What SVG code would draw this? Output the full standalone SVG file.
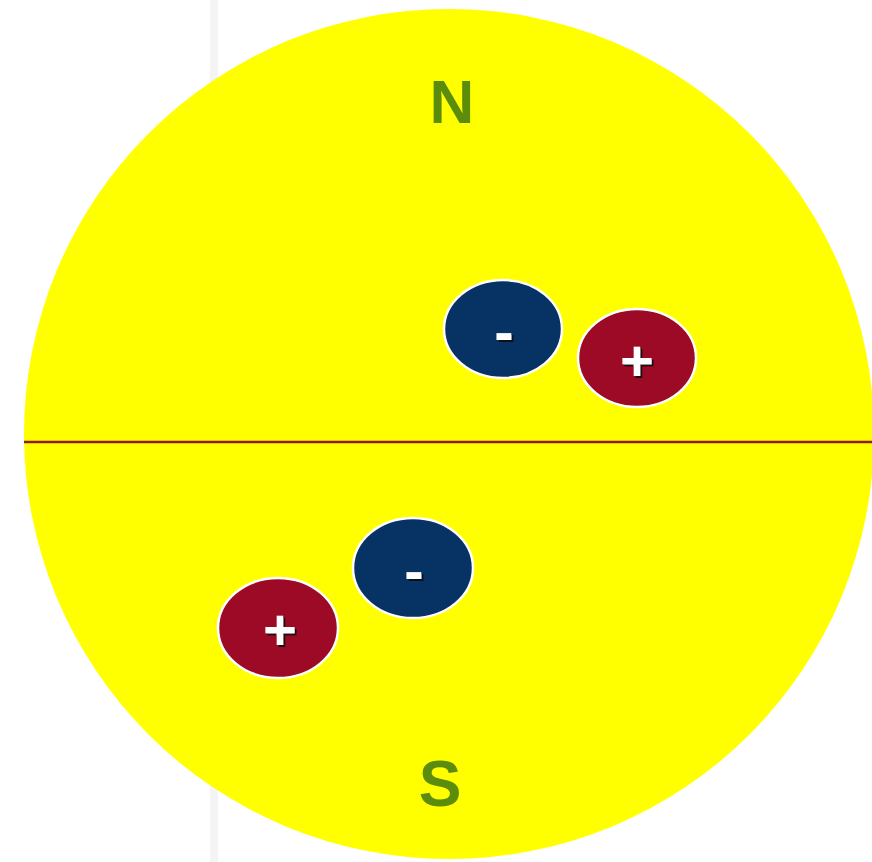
<svg xmlns="http://www.w3.org/2000/svg" width="872" height="862" viewBox="0 0 872 862">
  <style>
    .pole { font-family: "Liberation Sans", Arial, sans-serif; font-weight: bold; fill: #5c8c0c; text-anchor: middle; }
    .neg { fill: #073264; stroke: #ffffff; stroke-width: 2.5; }
    .pos { fill: #9c0a26; stroke: #ffffff; stroke-width: 2.5; }
    .sign { font-family: "Liberation Sans", Arial, sans-serif; font-weight: bold; font-size: 58px; fill: #ffffff; text-anchor: middle; filter: url(#shadow); }
  </style>
  <defs>
    <filter id="shadow" x="-50%" y="-50%" width="200%" height="200%">
      <feDropShadow dx="2" dy="2" stdDeviation="0.6" flood-color="#111111" flood-opacity="0.9"/>
    </filter>
  </defs>
  <rect x="0" y="0" width="872" height="862" fill="#ffffff"/>
  <rect x="210" y="0" width="8" height="862" fill="#f4f4f4"/>
  <g id="sphere">
    <circle cx="449" cy="434" r="425" fill="#ffff00"/>
  </g>
  <g id="equator">
    <line x1="24" y1="442" x2="872" y2="442" stroke="#8a1c12" stroke-width="2.5"/>
  </g>
  <g id="label-N">
    <text class="pole" x="452" y="123" font-size="62">N</text>
  </g>
  <g id="label-S">
    <text class="pole" x="440" y="806" font-size="64">S</text>
  </g>
  <g id="top-negative">
    <ellipse class="neg" cx="503" cy="329" rx="59" ry="49"/>
    <text class="sign" x="504" y="352">-</text>
  </g>
  <g id="top-positive">
    <ellipse class="pos" cx="637" cy="358" rx="59" ry="49"/>
    <text class="sign" x="637" y="381">+</text>
  </g>
  <g id="bottom-negative">
    <ellipse class="neg" cx="413" cy="568" rx="60" ry="50"/>
    <text class="sign" x="414" y="591">-</text>
  </g>
  <g id="bottom-positive">
    <ellipse class="pos" cx="278" cy="628" rx="60" ry="50"/>
    <text class="sign" x="280" y="650">+</text>
  </g>
</svg>
